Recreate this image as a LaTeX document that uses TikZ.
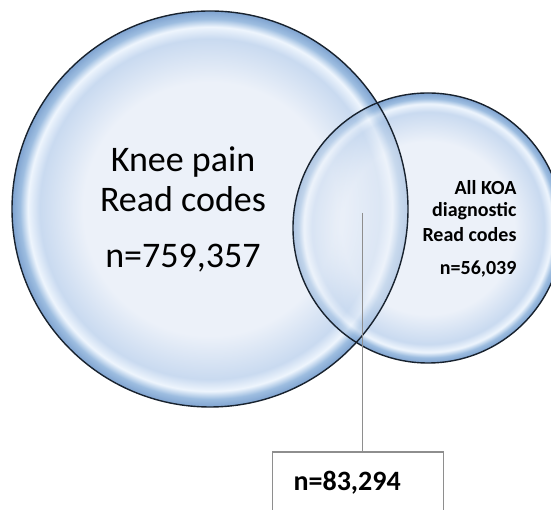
\documentclass[tikz,border=0pt]{standalone}
\usepackage{fontspec}
\setmainfont{Carlito}
\usetikzlibrary{positioning}
\definecolor{bubblein}{HTML}{ECF1F9}
\definecolor{bubblemid}{HTML}{C9DAF0}
\definecolor{bubblehi}{HTML}{EEF5FD}
\definecolor{bubbleedge}{HTML}{9DBDE0}
\definecolor{bubbledark}{HTML}{7FA3D0}
\definecolor{bubbleline}{HTML}{18222E}
\definecolor{boxgray}{HTML}{8E8E8E}
\pgfdeclareradialshading{bubble}{\pgfpoint{0bp}{0bp}}{color(0bp)=(bubblein); color(16bp)=(bubblein); color(21.5bp)=(bubblemid); color(23bp)=(bubblehi); color(24bp)=(bubbleedge); color(25bp)=(bubbledark); color(50bp)=(bubbledark)}

\begin{document}
\begin{tikzpicture}[x=1pt,y=1pt,
  rim/.style={draw=bubbleline,line width=1.4pt},
  bigtxt/.style={anchor=base,font=\fontsize{36}{40}\selectfont},
  smalltxt/.style={anchor=base east,font=\bfseries\fontsize{20}{24}\selectfont},
  countbox/.style={draw=boxgray,line width=1.2pt,anchor=base west,align=left,
    text width=129pt,inner xsep=21pt,inner ysep=4pt,text height=35pt,text depth=25pt,
    font=\bfseries\fontsize{28}{32}\selectfont},
  link/.style={draw=boxgray,line width=1pt}]
\clip (0,0) rectangle (551,510);
% the two bubbles
\shade[shading=bubble] (428,282) circle(135);
\shade[shading=bubble] (210,301) circle(198);
\begin{scope}
\clip (210,301) circle(198);
\shade[shading=bubble,fill opacity=.55] (428,282) circle(135);
\end{scope}
\draw[rim] (210,301) circle(198);
\draw[rim] (428,282) circle(135);
% labels
\node[bigtxt] (kneeA) at (183,338) {Knee pain};
\node[bigtxt] (kneeB) at (183,298) {Read codes};
\node[bigtxt] (kneeN) at (183,242) {n=759,357};
\node[smalltxt] (koaA) at (520,315) {All KOA};
\node[smalltxt] (koaB) at (520,293) {diagnostic};
\node[smalltxt] (koaC) at (520,268) {Read codes};
\node[smalltxt] (koaN) at (520,235) {n=56,039};
% overlap count
\coordinate (lens) at (362,297);
\node[countbox] (overlap) at (272,19) {n=83,294};
\draw[link] (lens) -- (lens |- overlap.north);
\end{tikzpicture}
\end{document}
